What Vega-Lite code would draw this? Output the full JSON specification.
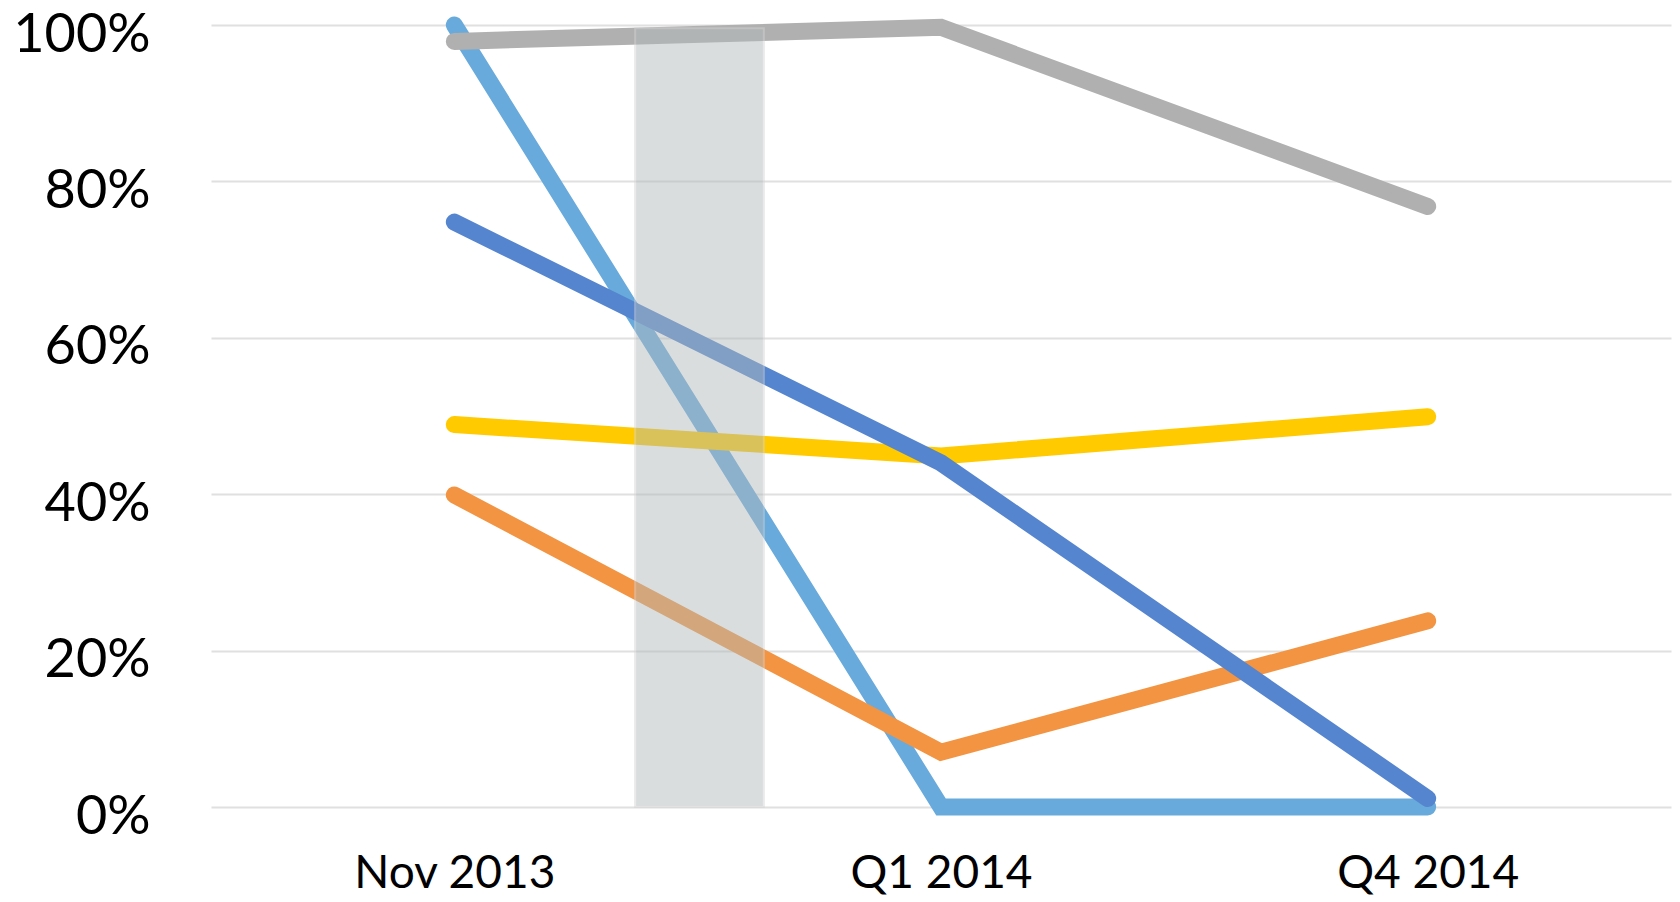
{
  "$schema": "https://vega.github.io/schema/vega-lite/v6.json",
  "autosize": {"type": "none"},
  "padding": {"left": 211, "top": 25, "right": 9, "bottom": 95},
  "width": 1460,
  "height": 782,
  "background": "white",
  "config": {
    "view": {"stroke": null},
    "font": "Lato"
  },
  "datasets": {
    "series": [
      {"series": "Series 1", "idx": 0, "period": "Nov 2013", "value": 1.0},
      {"series": "Series 1", "idx": 1, "period": "Q1 2014", "value": 0.0},
      {"series": "Series 1", "idx": 2, "period": "Q4 2014", "value": 0.0},
      {"series": "Series 2", "idx": 0, "period": "Nov 2013", "value": 0.399},
      {"series": "Series 2", "idx": 1, "period": "Q1 2014", "value": 0.07},
      {"series": "Series 2", "idx": 2, "period": "Q4 2014", "value": 0.238},
      {"series": "Series 3", "idx": 0, "period": "Nov 2013", "value": 0.489},
      {"series": "Series 3", "idx": 1, "period": "Q1 2014", "value": 0.449},
      {"series": "Series 3", "idx": 2, "period": "Q4 2014", "value": 0.499},
      {"series": "Series 4", "idx": 0, "period": "Nov 2013", "value": 0.979},
      {"series": "Series 4", "idx": 1, "period": "Q1 2014", "value": 0.997},
      {"series": "Series 4", "idx": 2, "period": "Q4 2014", "value": 0.768},
      {"series": "Series 5", "idx": 0, "period": "Nov 2013", "value": 0.748},
      {"series": "Series 5", "idx": 1, "period": "Q1 2014", "value": 0.44},
      {"series": "Series 5", "idx": 2, "period": "Q4 2014", "value": 0.011}
    ],
    "band": [
      {"start": 0.3715, "end": 0.636, "low": 0, "high": 0.996}
    ]
  },
  "layer": [
    {
      "data": {"name": "series"},
      "mark": {"type": "line", "strokeWidth": 17, "strokeCap": "round", "strokeJoin": "miter"},
      "encoding": {
        "x": {
          "field": "idx",
          "type": "quantitative",
          "scale": {"domain": [-0.5, 2.5], "nice": false, "zero": false},
          "axis": {
            "values": [0, 1, 2],
            "labelExpr": "datum.value == 0 ? 'Nov 2013' : datum.value == 1 ? 'Q1 2014' : 'Q4 2014'",
            "title": null,
            "grid": false,
            "domain": false,
            "ticks": false,
            "labelFontSize": 46,
            "labelLimit": 0,
            "labelColor": "#000000",
            "labelPadding": 44,
            "labelFont": "Lato"
          }
        },
        "y": {
          "field": "value",
          "type": "quantitative",
          "scale": {"domain": [0, 1], "nice": false},
          "axis": {
            "values": [0, 0.2, 0.4, 0.6, 0.8, 1],
            "format": ".0%",
            "title": null,
            "domain": false,
            "ticks": false,
            "grid": true,
            "gridColor": "#e0e0e0",
            "gridWidth": 2,
            "labelFontSize": 54,
            "labelLimit": 0,
            "labelOffset": 10,
            "labelColor": "#000000",
            "labelPadding": 61,
            "labelFont": "Lato"
          }
        },
        "color": {
          "field": "series",
          "type": "nominal",
          "scale": {
            "domain": ["Series 1", "Series 2", "Series 3", "Series 4", "Series 5"],
            "range": ["#68aadc", "#f29442", "#ffca00", "#b0b0b0", "#5585cf"]
          },
          "legend": null
        },
        "order": {"field": "idx"}
      }
    },
    {
      "data": {"name": "band"},
      "mark": {"type": "rect", "color": "#b2babc", "opacity": 0.48, "stroke": "#d4d4d4", "strokeWidth": 2, "strokeOpacity": 1},
      "encoding": {
        "x": {"field": "start", "type": "quantitative"},
        "x2": {"field": "end"},
        "y": {"field": "high", "type": "quantitative"},
        "y2": {"field": "low"}
      }
    }
  ]
}
